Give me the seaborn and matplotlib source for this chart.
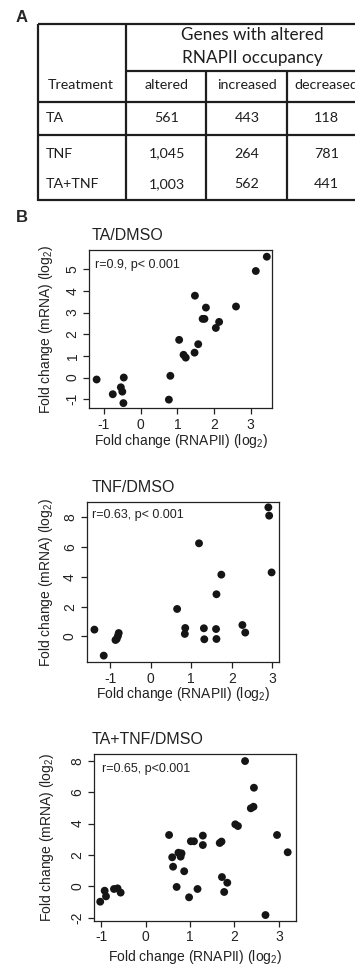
import numpy as np
import pandas as pd
import matplotlib
matplotlib.use("Agg")
import matplotlib.pyplot as plt
from matplotlib.lines import Line2D
import seaborn as sns

# ---------------- data ----------------
table_treatments = ["TA", "TNF", "TA+TNF"]
table_columns = ["altered", "increased", "decreased"]
altered = ["561", "1,045", "1,003"]
increased = ["443", "264", "562"]
decreased = ["118", "781", "441"]

ta_x = [3.44, 3.14, 1.48, 1.78, 2.60, 1.69, 1.74, 2.14, 2.05, 1.05, 1.57,
        1.17, 1.23, 1.47, 0.81, 0.77, -1.20, -0.46, -0.54, -0.50, -0.76, -0.47]
ta_y = [5.58, 4.92, 3.78, 3.23, 3.28, 2.71, 2.71, 2.57, 2.29, 1.74, 1.54,
        1.05, 0.92, 1.15, 0.08, -1.02, -0.09, 0.00, -0.45, -0.65, -0.77, -1.18]

tnf_x = [2.90, 2.92, 2.98, 1.19, 1.74, 1.62, 0.65, 0.85, 0.84, 1.31, 1.32,
         1.61, 1.62, 2.26, 2.33, -1.39, -1.16, -0.79, -0.81, -0.84, -0.87]
tnf_y = [8.68, 8.12, 4.30, 6.26, 4.15, 2.83, 1.84, 0.56, 0.16, 0.54, -0.20,
         0.49, -0.18, 0.76, 0.25, 0.45, -1.30, 0.22, 0.02, -0.18, -0.25]

tatnf_x = [2.24, 2.44, 2.37, 2.43, 2.02, 2.08, 2.96, 3.20, 0.53, 1.29, 1.29,
           1.02, 1.09, 1.67, 1.71, 0.60, 0.74, 0.81, 0.79, 0.62, 0.87, 0.70,
           0.98, 1.17, 1.72, 1.84, 1.77, 2.70, -1.02, -0.92, -0.89, -0.71,
           -0.63, -0.56]
tatnf_y = [7.98, 6.28, 4.97, 5.07, 3.95, 3.84, 3.27, 2.17, 3.27, 3.23, 2.63,
           2.87, 2.87, 2.76, 2.85, 1.85, 2.14, 2.10, 1.89, 1.25, 0.96, -0.04,
           -0.70, -0.17, 0.59, 0.23, -0.36, -1.83, -0.98, -0.28, -0.64, -0.17,
           -0.13, -0.40]

titles = ["TA/DMSO", "TNF/DMSO", "TA+TNF/DMSO"]
stats = ["r=0.9, p< 0.001", "r=0.63, p< 0.001", "r=0.65, p<0.001"]
xticks = [-1, 0, 1, 2, 3]
yticks_list = [[-1, 0, 1, 2, 3, 4, 5], [0, 2, 4, 6, 8], [-2, 0, 2, 4, 6, 8]]
xlims = [(-1.40, 3.59), (-1.58, 3.17), (-1.16, 3.38)]
ylims = [(-1.42, 5.89), (-1.75, 9.06), (-2.19, 8.41)]

# ---------------- style ----------------
sns.set_style("ticks")
plt.rcParams["font.family"] = ["Liberation Sans", "DejaVu Sans"]
plt.rcParams["mathtext.fontset"] = "custom"
plt.rcParams["mathtext.rm"] = "Liberation Sans"
plt.rcParams["mathtext.it"] = "Liberation Sans:italic"
plt.rcParams["mathtext.bf"] = "Liberation Sans:bold"
plt.rcParams["mathtext.default"] = "regular"
plt.rcParams["axes.unicode_minus"] = False

W, H = 355, 968
fig = plt.figure(figsize=(W / 100, H / 100), dpi=100)


def fx(x):
    return x / W


def fy(y):
    return 1 - y / H


# ---------------- panel A: table ----------------
tab_font = ["Lato", "DejaVu Sans"]
lc = "#1e1e1e"
lw = 1.6
tc = "#1e1e1e"


def hline(y, x0, x1):
    fig.add_artist(Line2D([fx(x0), fx(x1)], [fy(y), fy(y)], color=lc, lw=lw,
                          transform=fig.transFigure, solid_capstyle="butt"))


def vline(x, y0, y1):
    fig.add_artist(Line2D([fx(x), fx(x)], [fy(y0), fy(y1)], color=lc, lw=lw,
                          transform=fig.transFigure, solid_capstyle="butt"))


hline(24, 37.5, 360)
hline(70.7, 126, 360)
hline(101.7, 37.5, 360)
hline(135, 37.5, 360)
hline(200, 37.5, 360)
vline(38, 23.5, 200.5)
vline(126, 23.5, 200.5)
vline(206, 70.7, 200.5)
vline(287, 70.7, 200.5)

fig.text(fx(22), fy(18), "A", fontsize=12, fontweight="bold", ha="center", va="center")
fig.text(fx(252), fy(35), "Genes with altered", fontsize=12.3, family=tab_font,
         ha="center", va="center", color=tc)
fig.text(fx(252), fy(58), "RNAPII occupancy", fontsize=12.3, family=tab_font,
         ha="center", va="center", color=tc)
fig.text(fx(81), fy(85), "Treatment", fontsize=10.3, family=tab_font,
         ha="center", va="center", color=tc)
col_x = [166.5, 247, 326.5]
for cx, name in zip(col_x, table_columns):
    fig.text(fx(cx), fy(85), name, fontsize=10.3, family=tab_font,
             ha="center", va="center", color=tc)
row_y = [118.5, 153.5, 184.5]
for ry, tr, a, i, d in zip(row_y, table_treatments, altered, increased, decreased):
    fig.text(fx(46), fy(ry), tr, fontsize=10.3, family=tab_font,
             ha="left", va="center", color=tc)
    for cx, v in zip(col_x, [a, i, d]):
        fig.text(fx(cx), fy(ry), v, fontsize=10.3, family=tab_font,
                 ha="center", va="center", color=tc)

fig.text(fx(22), fy(218), "B", fontsize=12, fontweight="bold", ha="center", va="center")

# ---------------- panel B: scatter plots ----------------
boxes = [(89.3, 250, 272.3, 408.3), (86.7, 501.7, 279.3, 662.3), (94, 754.3, 295.7, 920.7)]
title_pos = [(92, 236), (91.7, 488), (91.7, 739)]
stat_pos = [(95, 265), (91.7, 515), (101.7, 769)]
ylabel_x = [46, 46, 46.7]
xlabel_y = [441, 694, 957]

datasets = [(ta_x, ta_y), (tnf_x, tnf_y), (tatnf_x, tatnf_y)]
for k, (xs, ys) in enumerate(datasets):
    l, t, r, b = boxes[k]
    ax = fig.add_axes([fx(l), fy(b), (r - l) / W, (b - t) / H])
    df = pd.DataFrame({"rnapii": xs, "mrna": ys})
    sns.scatterplot(data=df, x="rnapii", y="mrna", ax=ax, s=32, color="#151515",
                    edgecolor="none", linewidth=0)
    ax.set_xlim(*xlims[k])
    ax.set_ylim(*ylims[k])
    ax.set_xticks(xticks)
    ax.set_yticks(yticks_list[k])
    for sp in ax.spines.values():
        sp.set_visible(True)
        sp.set_linewidth(0.9)
        sp.set_color("#222222")
    ax.tick_params(axis="both", direction="out", length=4, width=0.9,
                   color="#222222", labelsize=10, labelcolor="#222222", pad=3)
    ax.tick_params(axis="y", labelrotation=90)
    for lab in ax.get_yticklabels():
        lab.set_va("center")
    ax.set_xlabel("Fold change (RNAPII) (log$_2$)", fontsize=10, color="#222222")
    ax.set_ylabel("Fold change (mRNA) (log$_2$)", fontsize=10, color="#222222")
    ax.yaxis.set_label_coords((ylabel_x[k] - l) / (r - l), 0.5)
    ax.yaxis.label.set_va("center")
    ax.xaxis.set_label_coords(0.5, (b - xlabel_y[k]) / (b - t))
    ax.xaxis.label.set_va("center")
    fig.text(fx(title_pos[k][0]), fy(title_pos[k][1]), titles[k], fontsize=11.5,
             ha="left", va="center", color="#222222")
    fig.text(fx(stat_pos[k][0]), fy(stat_pos[k][1]), stats[k], fontsize=9,
             ha="left", va="center", color="#222222")

fig.savefig("out.png", dpi=100)
